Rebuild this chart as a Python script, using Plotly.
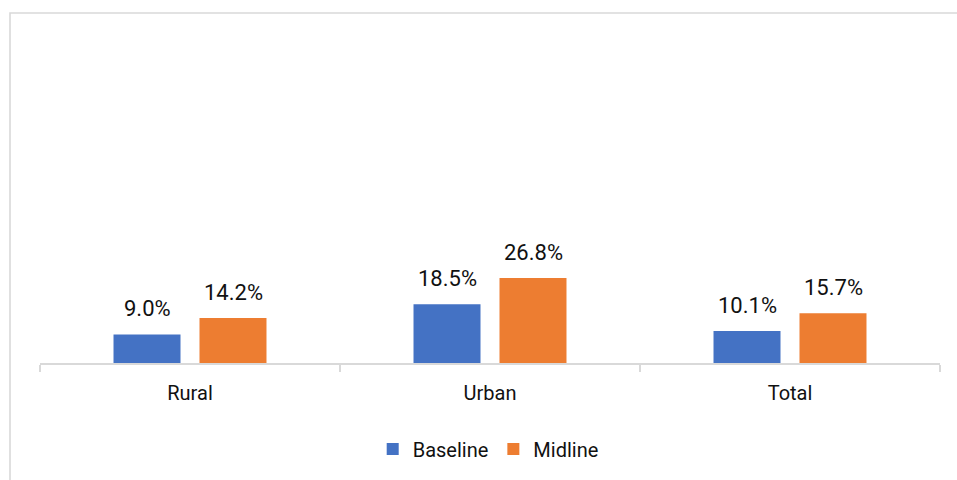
import plotly.graph_objects as go

# Chart data
categories = ["Rural", "Urban", "Total"]
baseline = [9.0, 18.5, 10.1]
midline = [14.2, 26.8, 15.7]
series_names = ["Baseline", "Midline"]

W, H = 957, 480
ML, MR, MT, MB = 40, 17, 46, 117
plot_w = W - ML - MR
plot_h = H - MT - MB

colors = ["#4472C4", "#ED7D31"]
font_family = "Roboto"

BARGAP = 0.4267
BARGROUPGAP = 0.221

fig = go.Figure()
for name, vals, col in zip(series_names, [baseline, midline], colors):
    fig.add_trace(go.Bar(
        x=categories, y=vals, name=name,
        marker=dict(color=col, line=dict(width=0)),
        hoverinfo="skip",
    ))

# Value labels above bars, at the centres of the grouped bars
half_slot = (1 - BARGAP) / 4
offsets = [-half_slot, half_slot]
annotations = []
for k, vals in enumerate([baseline, midline]):
    for i, v in enumerate(vals):
        annotations.append(dict(
            x=i + offsets[k], y=v, xref="x", yref="y",
            text=f"{v:.1f}%", showarrow=False,
            yanchor="bottom", yshift=11,
            font=dict(family=font_family, size=22, color="#111111"),
        ))

# Light outer frame of the chart area
def px_to_paper_x(px):
    return (px - ML) / plot_w

def px_to_paper_y(py):
    return (H - MB - py) / plot_h

shapes = [dict(
    type="rect", xref="paper", yref="paper",
    x0=px_to_paper_x(10), x1=px_to_paper_x(960),
    y0=px_to_paper_y(500), y1=px_to_paper_y(13),
    line=dict(color="#d9d9d9", width=1.6), fillcolor="rgba(0,0,0,0)",
    layer="below",
)]

fig.update_layout(
    width=W, height=H,
    margin=dict(l=ML, r=MR, t=MT, b=MB),
    paper_bgcolor="white", plot_bgcolor="white",
    barmode="group", bargap=BARGAP, bargroupgap=BARGROUPGAP,
    showlegend=True,
    legend=dict(
        orientation="h", x=0.498, xanchor="center",
        y=px_to_paper_y(449), yanchor="middle",
        font=dict(family=font_family, size=20, color="#111111"),
        itemwidth=30, traceorder="normal",
    ),
    xaxis=dict(
        showline=True, linecolor="#d9d9d9", linewidth=1.5,
        ticks="outside", tickson="boundaries", ticklen=7,
        tickcolor="#d9d9d9", tickwidth=1.5,
        tickfont=dict(family=font_family, size=20, color="#111111"),
        ticklabelstandoff=11,
        showgrid=False, zeroline=False,
    ),
    yaxis=dict(
        range=[0, 100], visible=False, showgrid=False, zeroline=False,
    ),
    annotations=annotations,
    shapes=shapes,
    font=dict(family=font_family),
)

fig.write_html("out.html")
